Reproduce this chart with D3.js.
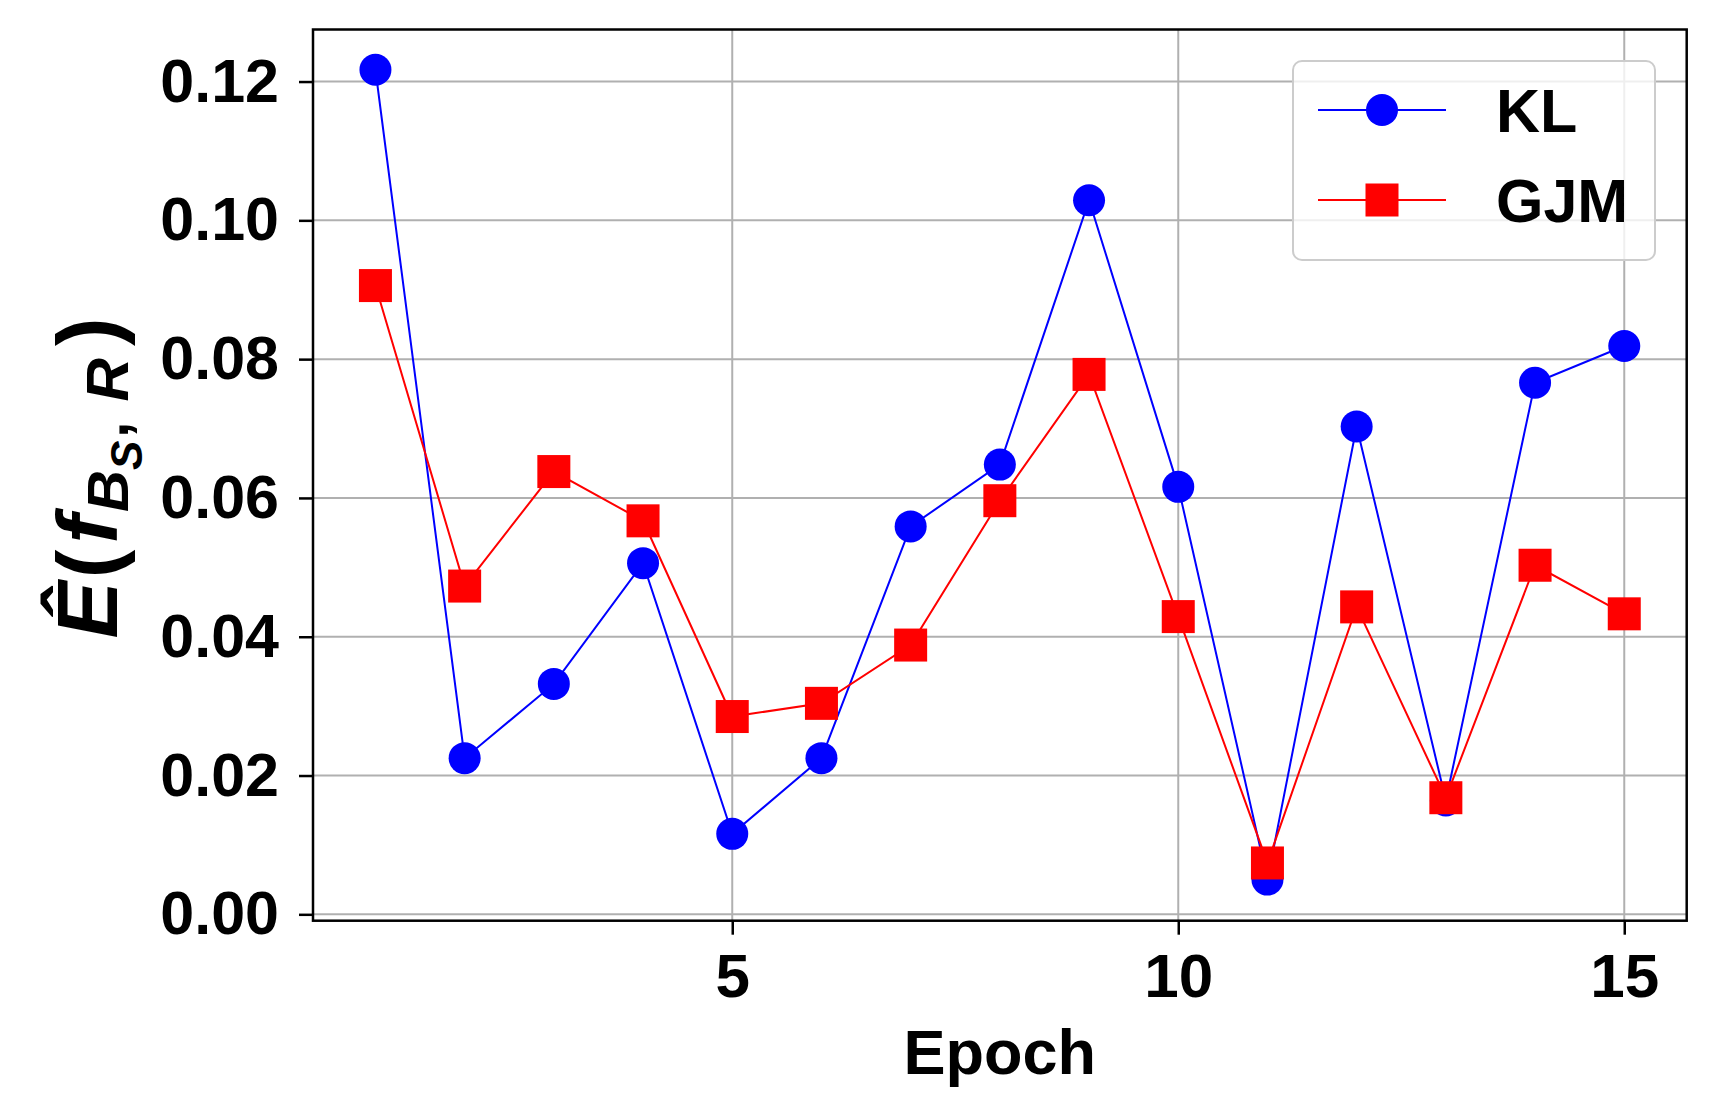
<!DOCTYPE html>
<html>
<head>
<meta charset="utf-8">
<script src="https://cdn.jsdelivr.net/npm/d3@7"></script>
<style>
  body { margin: 0; background: #fff; }
  text { font-family: "Liberation Sans", Arial, sans-serif; font-weight: bold; }
</style>
</head>
<body>
<div id="chart"></div>
<script>
// data
var epochs = [1, 2, 3, 4, 5, 6, 7, 8, 9, 10, 11, 12, 13, 14, 15]
var klValues = [0.1217, 0.0225, 0.0332, 0.0506, 0.0116, 0.0225, 0.0559, 0.0648, 0.1029, 0.0616, 0.0050, 0.0703, 0.0164, 0.0766, 0.0819]
var gjmValues = [0.0906, 0.0473, 0.0638, 0.0567, 0.0285, 0.0304, 0.0388, 0.0596, 0.0778, 0.0429, 0.0074, 0.0443, 0.0168, 0.0503, 0.0433]
var xTicks = [5, 10, 15]
var yTicks = [0.00, 0.02, 0.04, 0.06, 0.08, 0.10, 0.12]
var seriesNames = ["KL", "GJM"]
var seriesColors = ["#0000ff", "#ff0000"]

var W = 1715, H = 1115
// plot box (window.top is reserved, so use other names)
var plotL = 313, plotR = 1686.7, plotT = 29.5, plotB = 920.7

var svg = d3.select('#chart')
  .append('svg')
  .attr("width", W)
  .attr("height", H)

var x = d3.scaleLinear()
  .domain([0.3, 15.7])
  .range([plotL, plotR])

var y = d3.scaleLinear()
  .domain([-0.00092, 0.1275])
  .range([plotB, plotT])

// grid
svg.append("g")
  .selectAll("line")
  .data(xTicks)
  .enter()
  .append("line")
  .attr("x1", function (d) { return x(d) })
  .attr("x2", function (d) { return x(d) })
  .attr("y1", plotT)
  .attr("y2", plotB)
  .attr("stroke", "#b0b0b0")
  .attr("stroke-width", 2)

svg.append("g")
  .selectAll("line")
  .data(yTicks)
  .enter()
  .append("line")
  .attr("x1", plotL)
  .attr("x2", plotR)
  .attr("y1", function (d) { return y(d) })
  .attr("y2", function (d) { return y(d) })
  .attr("stroke", "#b0b0b0")
  .attr("stroke-width", 2)

// axes
var xAxis = svg.append("g")
  .attr("transform", "translate(0," + plotB + ")")
  .call(d3.axisBottom(x).tickValues(xTicks).tickSize(14).tickPadding(18).tickFormat(d3.format("d")))
xAxis.select(".domain").remove()
xAxis.selectAll("line").attr("stroke", "#000").attr("stroke-width", 2.5)
xAxis.selectAll("text").attr("font-size", 62).attr("fill", "#000")
  .attr("font-family", "Liberation Sans, Arial, sans-serif")
  .attr("font-weight", "bold")

var yAxis = svg.append("g")
  .attr("transform", "translate(" + plotL + ",0)")
  .call(d3.axisLeft(y).tickValues(yTicks).tickSize(14).tickPadding(20).tickFormat(d3.format(".2f")))
yAxis.select(".domain").remove()
yAxis.selectAll("line").attr("stroke", "#000").attr("stroke-width", 2.5)
yAxis.selectAll("text").attr("font-size", 61).attr("fill", "#000")
  .attr("font-family", "Liberation Sans, Arial, sans-serif")
  .attr("font-weight", "bold")

// series
var allSeries = [klValues, gjmValues]
var line = d3.line()
  .x(function (d, i) { return x(epochs[i]) })
  .y(function (d) { return y(d) })

allSeries.forEach(function (vals, k) {
  var g = svg.append("g")
  g.append("path")
    .datum(vals)
    .attr("d", line)
    .attr("fill", "none")
    .attr("stroke", seriesColors[k])
    .attr("stroke-width", 2)
  if (k === 0) {
    g.selectAll("circle")
      .data(vals)
      .enter()
      .append("circle")
      .attr("cx", function (d, i) { return x(epochs[i]) })
      .attr("cy", function (d) { return y(d) })
      .attr("r", 16)
      .attr("fill", seriesColors[k])
  } else {
    g.selectAll("rect")
      .data(vals)
      .enter()
      .append("rect")
      .attr("x", function (d, i) { return x(epochs[i]) - 16.5 })
      .attr("y", function (d) { return y(d) - 16.5 })
      .attr("width", 33)
      .attr("height", 33)
      .attr("fill", seriesColors[k])
  }
})

// frame
svg.append("rect")
  .attr("x", plotL)
  .attr("y", plotT)
  .attr("width", plotR - plotL)
  .attr("height", plotB - plotT)
  .attr("fill", "none")
  .attr("stroke", "#000")
  .attr("stroke-width", 2.5)

// legend
var lg = svg.append("g")
lg.append("rect")
  .attr("x", 1293)
  .attr("y", 61)
  .attr("width", 362)
  .attr("height", 199)
  .attr("rx", 9)
  .attr("fill", "#fff")
  .attr("fill-opacity", 0.8)
  .attr("stroke", "#cccccc")
  .attr("stroke-width", 2)

var legendRows = [110, 200]
seriesNames.forEach(function (name, k) {
  var ly = legendRows[k]
  lg.append("line")
    .attr("x1", 1318).attr("x2", 1446)
    .attr("y1", ly).attr("y2", ly)
    .attr("stroke", seriesColors[k])
    .attr("stroke-width", 2)
  if (k === 0) {
    lg.append("circle").attr("cx", 1382).attr("cy", ly).attr("r", 16).attr("fill", seriesColors[k])
  } else {
    lg.append("rect").attr("x", 1382 - 16.5).attr("y", ly - 16.5).attr("width", 33).attr("height", 33).attr("fill", seriesColors[k])
  }
  lg.append("text")
    .attr("x", 1496)
    .attr("y", ly + 22)
    .attr("font-size", 61)
    .attr("fill", "#000")
    .text(name)
})

// x label
svg.append("text")
  .attr("x", (plotL + plotR) / 2)
  .attr("y", 1074)
  .attr("text-anchor", "middle")
  .attr("font-size", 63)
  .attr("fill", "#000")
  .text("Epoch")

// y label with math-style subscripts
var yl = svg.append("text")
  .attr("transform", "translate(117,478) rotate(-90)")
  .attr("text-anchor", "middle")
  .attr("font-size", 86)
  .attr("fill", "#000")
yl.append("tspan").attr("font-style", "italic").text("Ê")
yl.append("tspan").attr("dx", 3).text("(")
yl.append("tspan").attr("dx", 6).attr("font-style", "italic").text("f")
yl.append("tspan").attr("dx", 3).attr("font-style", "italic").attr("font-size", 58).attr("dy", 11).text("B")
yl.append("tspan").attr("font-style", "italic").attr("font-size", 44).attr("dy", 14).text("S")
yl.append("tspan").attr("dx", 3).attr("font-size", 58).attr("dy", -14).text(", ")
yl.append("tspan").attr("dx", 4).attr("font-style", "italic").attr("font-size", 60).text("R")
yl.append("tspan").attr("dx", 12).attr("dy", -11).text(")")
</script>
</body>
</html>
